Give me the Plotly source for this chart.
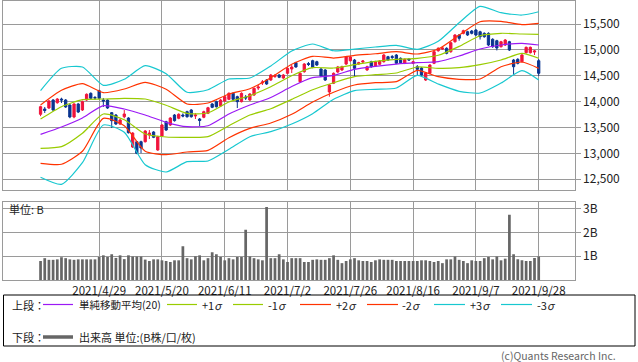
import plotly.graph_objects as go

# ---------------- data ----------------
opens = [13756, 13858, 13877, 14032, 13980, 14051, 14032, 13935, 13704, 13955,
         13839, 14032, 14161, 14080, 14212, 14032, 14032, 13787, 13742, 13568,
         13709, 13684, 13124, 13226, 13226, 13226, 13356, 13414, 13066, 13336,
         13613, 13549, 13742, 13678, 13742, 13806, 13839, 13723, 13665, 13698,
         13775, 13955, 14000, 13916, 14013, 14045, 14161, 14096, 14000, 14090,
         14032, 14129, 14264, 14361, 14418, 14418, 14486, 14515, 14457, 14548,
         14631, 14753, 14386, 14579, 14737, 14791, 14772, 14631, 14612, 14187,
         14355, 14573, 14612, 14727, 14791, 14805, 14727, 14766, 14612, 14772,
         14689, 14722, 14772, 14869, 14872, 14901, 14838, 14741, 14824, 14741,
         14675, 14650, 14418, 14548, 14741, 14984, 15017, 15031, 14965, 15158,
         15288, 15320, 15351, 15365, 15384, 15351, 15320, 15320, 15205, 15178,
         15062, 15095, 15158, 14805, 14818, 14772, 14946, 14946, 14959, 14791]
highs = [13920, 13897, 14030, 14050, 14070, 14076, 14050, 13950, 13970, 13975,
         14020, 14160, 14180, 14109, 14230, 14071, 14045, 13800, 13760, 13665,
         13839, 13700, 13410, 13240, 13245, 13450, 13452, 13430, 13340, 13565,
         13630, 13700, 13760, 13775, 13775, 13825, 13855, 13781, 13684, 13825,
         13900, 13975, 14020, 14050, 14115, 14180, 14180, 14115, 14180, 14129,
         14165, 14275, 14322, 14418, 14435, 14535, 14534, 14535, 14535, 14665,
         14708, 14770, 14565, 14745, 14766, 14810, 14790, 14650, 14630, 14340,
         14565, 14690, 14695, 14880, 14880, 14825, 14770, 14805, 14695, 14790,
         14790, 14805, 14920, 14885, 14901, 14920, 14855, 14835, 14838, 14790,
         14708, 14670, 14570, 14725, 14985, 15050, 15050, 15050, 15155, 15305,
         15305, 15390, 15370, 15385, 15405, 15370, 15340, 15340, 15225, 15195,
         15175, 15210, 15175, 14825, 14840, 14920, 15065, 15065, 14998, 14824]
lows = [13720, 13781, 13860, 13820, 13960, 13974, 13880, 13680, 13680, 13780,
        13820, 14015, 14045, 14032, 14045, 13897, 13860, 13491, 13550, 13550,
        13678, 13385, 13105, 12985, 13005, 13210, 13278, 13295, 13050, 13320,
        13435, 13530, 13615, 13660, 13698, 13690, 13690, 13665, 13530, 13680,
        13760, 13875, 13885, 13900, 13995, 14030, 14030, 13877, 13985, 14032,
        14015, 14110, 14225, 14322, 14325, 14400, 14457, 14455, 14440, 14530,
        14554, 14655, 14370, 14560, 14689, 14645, 14690, 14478, 14400, 14096,
        14340, 14555, 14595, 14710, 14775, 14482, 14710, 14747, 14595, 14655,
        14670, 14705, 14755, 14790, 14824, 14725, 14735, 14725, 14791, 14725,
        14515, 14500, 14400, 14530, 14725, 14965, 15000, 14915, 14945, 15140,
        15178, 15300, 15270, 15300, 15270, 15200, 15235, 15075, 15040, 14990,
        15045, 15075, 14980, 14515, 14720, 14755, 14930, 14930, 14901, 14496]
closes = [13903, 13829, 14013, 13839, 14051, 14032, 13897, 13704, 13955, 13800,
          14000, 14142, 14065, 14071, 14065, 14013, 13877, 13632, 13568, 13645,
          13762, 13400, 13394, 13002, 13105, 13433, 13394, 13311, 13323, 13549,
          13452, 13684, 13632, 13756, 13723, 13709, 13709, 13742, 13636, 13806,
          13883, 13891, 13903, 14032, 14096, 14161, 14045, 14000, 14161, 14071,
          14148, 14258, 14283, 14380, 14341, 14515, 14505, 14471, 14515, 14644,
          14669, 14670, 14548, 14727, 14718, 14664, 14708, 14496, 14418, 14322,
          14548, 14670, 14675, 14863, 14863, 14644, 14753, 14785, 14675, 14675,
          14772, 14785, 14901, 14805, 14853, 14741, 14753, 14818, 14805, 14772,
          14625, 14515, 14554, 14708, 14965, 15031, 15037, 14934, 15139, 15288,
          15224, 15371, 15288, 15320, 15288, 15255, 15255, 15095, 15062, 15037,
          15158, 15191, 14998, 14675, 14741, 14901, 15050, 15050, 14979, 14548]
volume_b = [0.80, 0.92, 0.85, 0.85, 0.87, 0.96, 0.92, 0.87, 0.85, 0.87,
            0.87, 0.87, 0.87, 0.87, 0.97, 1.04, 0.97, 1.08, 0.93, 1.04,
            0.88, 1.04, 0.99, 0.99, 0.99, 0.86, 0.80, 0.87, 0.87, 0.83,
            0.80, 0.76, 0.83, 0.83, 1.42, 0.92, 0.87, 1.00, 1.04, 0.83,
            0.92, 1.17, 1.08, 0.97, 0.83, 0.92, 0.87, 0.97, 0.97, 2.12,
            0.99, 0.92, 0.87, 0.83, 3.08, 0.92, 0.92, 1.08, 0.87, 0.76,
            0.92, 0.92, 0.92, 0.76, 0.76, 0.85, 0.87, 0.85, 0.85, 0.92,
            1.04, 0.85, 0.71, 0.80, 0.87, 0.92, 0.83, 0.80, 0.80, 0.76,
            0.83, 0.87, 0.85, 0.85, 0.85, 0.80, 0.80, 0.80, 0.80, 0.80,
            0.80, 0.83, 0.83, 0.80, 0.76, 0.80, 0.71, 0.87, 0.87, 0.99,
            0.85, 0.80, 0.71, 0.83, 0.80, 0.80, 0.92, 0.97, 0.87, 0.99,
            0.83, 0.90, 2.75, 1.08, 0.87, 0.83, 0.80, 0.80, 0.93, 0.99]

# Bollinger band readings, taken at these bar numbers
band_bar = [0, 5, 10, 15, 20, 25, 30, 35, 40, 45, 50, 55, 60, 65, 70, 75,
            80, 85, 90, 95, 100, 105, 110, 115, 119]
sma20 = [13369, 13510, 13684, 13922, 13858, 13742, 13601, 13516, 13535, 13761,
         13935, 14080, 14293, 14463, 14509, 14625, 14683, 14727, 14753, 14772,
         14882, 15017, 15095, 15127, 15095]
plus1 = [13665, 13903, 14038, 14051, 14065, 14051, 13930, 13775, 13781, 13993,
         14115, 14289, 14501, 14656, 14650, 14714, 14780, 14818, 14838, 14896,
         15069, 15274, 15321, 15307, 15301]
minus1 = [13099, 13130, 13389, 13761, 13651, 13375, 13317, 13311, 13323, 13535,
          13742, 13864, 14045, 14231, 14366, 14482, 14521, 14554, 14670, 14644,
          14656, 14714, 14805, 14934, 14838]
plus2 = [13935, 14219, 14347, 14173, 14244, 14374, 14239, 13955, 13974, 14148,
         14250, 14463, 14722, 14876, 14843, 14896, 14926, 14965, 14921, 15017,
         15288, 15545, 15552, 15487, 15514]
minus2 = [12809, 12790, 13041, 13678, 13535, 13041, 12975, 13027, 13060, 13304,
          13485, 13588, 13756, 13993, 14181, 14322, 14366, 14386, 14606, 14482,
          14432, 14438, 14675, 14766, 14644]
plus3 = [14212, 14644, 14670, 14316, 14432, 14695, 14540, 14181, 14231, 14438,
         14457, 14689, 14979, 15114, 14984, 15017, 15056, 15089, 15011, 15166,
         15525, 15842, 15719, 15674, 15738]
minus3 = [12539, 12403, 12821, 13549, 13408, 12782, 12641, 12840, 12853, 13079,
          13323, 13420, 13568, 13767, 14045, 14212, 14239, 14264, 14509, 14341,
          14200, 14167, 14360, 14598, 14418]

date_labels = ["2021/4/29", "2021/5/20", "2021/6/11", "2021/7/2",
               "2021/7/26", "2021/8/16", "2021/9/7", "2021/9/28"]
date_label_bar = [14, 29, 44, 59, 74, 89, 104, 119]
price_ticks = [12500, 13000, 13500, 14000, 14500, 15000, 15500]
volume_ticks = [1, 2, 3]
volume_tick_text = ["1B", "2B", "3B"]

# ---------------- styling ----------------
W, H = 638, 362
RED = "#f0143c"
BLUE = "#0b3590"
PURPLE = "#9b19f5"
YG = "#99cc00"
ORANGE = "#ff3300"
CYAN = "#18c8d0"
GRID = "#9a9a9a"
FONT = "Noto Sans CJK JP"

bars = list(range(len(opens)))

def px_x(p):
    return p / W

def px_y(p):
    return 1 - p / H

fig = go.Figure()

band_specs = [
    (plus3, CYAN), (minus3, CYAN), (plus2, ORANGE), (minus2, ORANGE),
    (plus1, YG), (minus1, YG), (sma20, PURPLE),
]
for vals, col in band_specs:
    fig.add_trace(go.Scatter(
        x=band_bar, y=vals, mode="lines",
        line=dict(color=col, width=1.2, shape="spline", smoothing=0.6),
        hoverinfo="skip", showlegend=False, xaxis="x", yaxis="y"))

fig.add_trace(go.Candlestick(
    x=bars, open=opens, high=highs, low=lows, close=closes,
    increasing=dict(line=dict(color=RED, width=1), fillcolor=RED),
    decreasing=dict(line=dict(color=BLUE, width=1), fillcolor=BLUE),
    whiskerwidth=0, showlegend=False, hoverinfo="skip",
    xaxis="x", yaxis="y"))

fig.add_trace(go.Bar(
    x=bars, y=volume_b, marker=dict(color="#666666", line=dict(width=0)),
    showlegend=False, hoverinfo="skip", xaxis="x2", yaxis="y2"))

xdom = [px_x(3), px_x(574.7)]
xrange_ = [-8.97, 127.6]

axis_common = dict(showgrid=True, gridcolor=GRID, gridwidth=1, zeroline=False,
                   showline=True, linecolor=GRID, linewidth=1, mirror=True,
                   automargin=False)

fig.update_layout(
    width=W, height=H,
    margin=dict(l=0, r=0, t=0, b=0, autoexpand=False),
    paper_bgcolor="white", plot_bgcolor="white",
    font=dict(family=FONT, size=12, color="#222222"),
    boxgap=0.22, bargap=0.35,
    showlegend=False,
    xaxis=dict(domain=xdom, range=xrange_, anchor="y", tickmode="array",
               tickvals=date_label_bar, showticklabels=False, ticks="",
               rangeslider=dict(visible=False), **axis_common),
    yaxis=dict(domain=[px_y(190), px_y(1)], range=[12293, 15945], anchor="x",
               side="right", tickmode="array", tickvals=price_ticks,
               tickformat=",d", ticks="outside", ticklen=5, tickcolor=GRID,
               tickfont=dict(size=12, color="#222222"), **axis_common),
    xaxis2=dict(domain=xdom, range=xrange_, anchor="y2", tickmode="array",
                tickvals=date_label_bar, ticktext=date_labels, ticks="",
                tickfont=dict(size=11.5, color="#222222"), **axis_common),
    yaxis2=dict(domain=[px_y(280), px_y(201.7)], range=[0, 3.3], anchor="x2",
                side="right", tickmode="array", tickvals=volume_ticks,
                ticktext=volume_tick_text, ticks="outside", ticklen=5,
                tickcolor=GRID, tickfont=dict(size=12, color="#222222"),
                **axis_common),
)

annotations = []
shapes = []

def text(x, y, s, size=11, anchor="left", color="#222222"):
    annotations.append(dict(x=px_x(x), y=px_y(y), xref="paper", yref="paper",
                            text=s, showarrow=False, xanchor=anchor,
                            yanchor="middle", borderpad=0,
                            font=dict(family=FONT, size=size, color=color)))

def seg(x0, x1, y, color, width=1.2):
    shapes.append(dict(type="line", xref="paper", yref="paper",
                       x0=px_x(x0), x1=px_x(x1), y0=px_y(y), y1=px_y(y),
                       line=dict(color=color, width=width)))

text(8, 209, "単位: B", size=11)

# legend box
shapes.append(dict(type="rect", xref="paper", yref="paper",
                   x0=px_x(3.5), x1=px_x(635), y0=px_y(295), y1=px_y(346),
                   line=dict(color="#000000", width=1), fillcolor="rgba(0,0,0,0)"))
row1, row2 = 304.5, 337
text(11, row1, "上段：")
seg(43, 73, row1, PURPLE)
text(78, row1, "単純移動平均(20)", size=10.5)
seg(167, 197, row1, YG)
text(201, row1, "+1<i>σ</i>")
seg(233, 263, row1, YG)
text(267, row1, "-1<i>σ</i>")
seg(300, 331, row1, ORANGE)
text(335, row1, "+2<i>σ</i>")
seg(367, 398, row1, ORANGE)
text(401, row1, "-2<i>σ</i>")
seg(434, 465, row1, CYAN)
text(469, row1, "+3<i>σ</i>")
seg(501, 532, row1, CYAN)
text(536, row1, "-3<i>σ</i>")
text(11, row2, "下段：")
seg(43, 73, row2, "#666666", width=3.5)
text(78, row2, "出来高 単位:(B株/口/枚)")

text(617, 355, "(c)Quants Research Inc.", size=10.5, anchor="right", color="#666666")

fig.update_layout(annotations=annotations, shapes=shapes)

fig.write_html("out.html",
               config={"displayModeBar": False},
               post_script="document.body.style.margin='0';"
                           "document.body.style.overflow='hidden';")
